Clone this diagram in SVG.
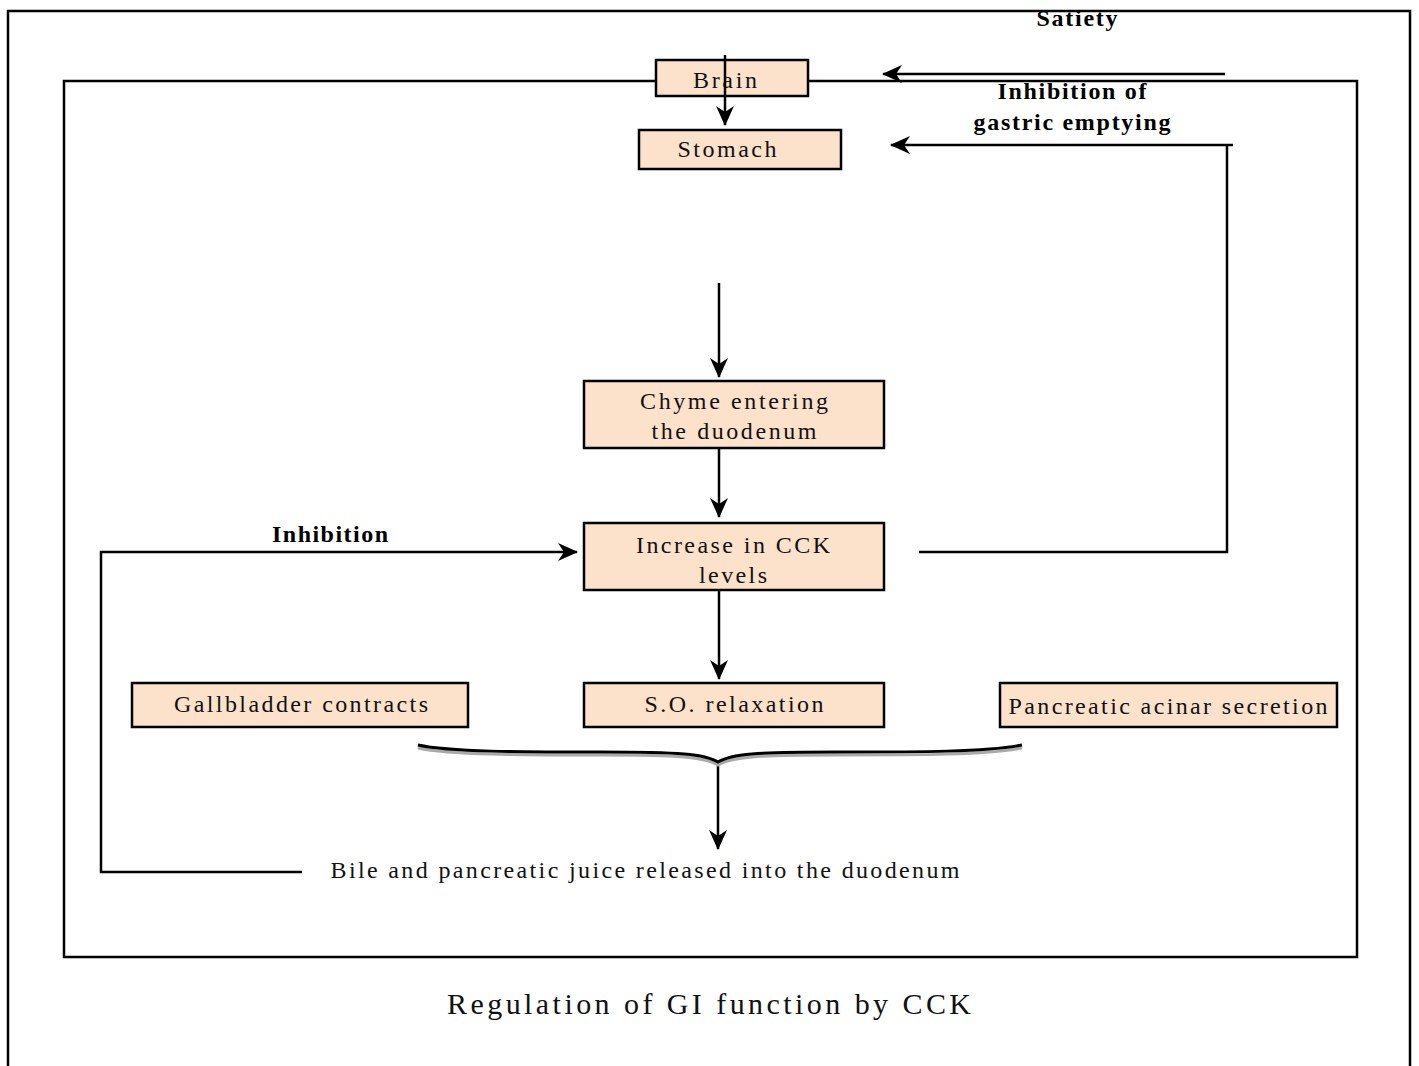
<svg xmlns="http://www.w3.org/2000/svg" width="1419" height="1066" viewBox="0 0 1419 1066">
<style>
.box{fill:#FCE1CB;stroke:#000;stroke-width:2.5}
.t{font-family:'Liberation Serif','DejaVu Serif',serif;font-size:24px;fill:#111;text-anchor:middle}
.b{font-family:'Liberation Serif','DejaVu Serif',serif;font-size:24px;font-weight:bold;fill:#000;text-anchor:middle}
.ln{fill:none;stroke:#000;stroke-width:2.5}
.ar{fill:none;stroke:#000;stroke-width:2.5;marker-end:url(#ah)}
</style>
<defs>
<marker id="ah" viewBox="0 0 20 18" refX="19" refY="9" markerWidth="20" markerHeight="18" markerUnits="userSpaceOnUse" orient="auto">
<path d="M0,0 L20,9 L0,18 L6,9 z" fill="#000"/>
</marker>
</defs>
<rect width="1419" height="1066" fill="#fff"/>
<g id="frame">
<path d="M8,1066 V11 H1410 V1066" class="ln"/>
<rect x="64" y="81" width="1293" height="876" class="ln"/>
</g>
<g id="connectors">
<line x1="1225" y1="74" x2="883" y2="74" class="ar"/>
<line x1="1233" y1="145" x2="891" y2="145" class="ar"/>
<path d="M919,552 H1227 V145" class="ln"/>
<line x1="719" y1="283" x2="719" y2="377" class="ar"/>
<line x1="719" y1="448" x2="719" y2="517" class="ar"/>
<line x1="719" y1="590" x2="719" y2="679" class="ar"/>
<line x1="718" y1="763" x2="718" y2="849" class="ar"/>
<path d="M302,872 H101 V552 H577" class="ar"/>
<path d="M418,748 C450,755 520,755 600,755 C680,755 705,757 718,765 C731,757 756,755 836,755 C916,755 990,755 1022,748" fill="none" stroke="#aaa" stroke-width="3"/>
<path d="M418,745 C450,752 520,752 600,752 C680,752 705,754 718,762 C731,754 756,752 836,752 C916,752 990,752 1022,745" fill="none" stroke="#000" stroke-width="3"/>
</g>
<g id="brain">
<rect x="656" y="60" width="152" height="36" class="box"/>
<text x="725" y="88" class="t" textLength="64" lengthAdjust="spacing">Brain</text>
</g>
<line x1="725" y1="55" x2="725" y2="125" class="ar"/>
<g id="stomach">
<rect x="639" y="130" width="202" height="39" class="box"/>
<text x="727" y="157" class="t" textLength="99" lengthAdjust="spacing">Stomach</text>
</g>
<g id="chyme">
<rect x="584" y="381" width="300" height="67" class="box"/>
<text x="734" y="409" class="t" textLength="188" lengthAdjust="spacing">Chyme entering</text>
<text x="734" y="439" class="t" textLength="165" lengthAdjust="spacing">the duodenum</text>
</g>
<g id="cck">
<rect x="584" y="523" width="300" height="67" class="box"/>
<text x="733" y="553" class="t" textLength="194" lengthAdjust="spacing">Increase in CCK</text>
<text x="733" y="583" class="t" textLength="68" lengthAdjust="spacing">levels</text>
</g>
<g id="gallbladder">
<rect x="132" y="683" width="336" height="44" class="box"/>
<text x="301" y="712" class="t" textLength="254" lengthAdjust="spacing">Gallbladder contracts</text>
</g>
<g id="so">
<rect x="584" y="683" width="300" height="44" class="box"/>
<text x="734" y="712" class="t" textLength="179" lengthAdjust="spacing">S.O. relaxation</text>
</g>
<g id="pancreatic">
<rect x="1000" y="683" width="337" height="44" class="box"/>
<text x="1168" y="714" class="t" textLength="319" lengthAdjust="spacing">Pancreatic acinar secretion</text>
</g>
<g id="bile">
<text x="645" y="878" class="t" textLength="629" lengthAdjust="spacing">Bile and pancreatic juice released into the duodenum</text>
</g>
<g id="labels">
<text x="1077" y="26" class="b" textLength="81" lengthAdjust="spacing">Satiety</text>
<text x="1072" y="99" class="b" textLength="149" lengthAdjust="spacing">Inhibition of</text>
<text x="1072" y="130" class="b" textLength="197" lengthAdjust="spacing">gastric emptying</text>
<text x="330" y="542" class="b" textLength="116" lengthAdjust="spacing">Inhibition</text>
<text x="709" y="1014" class="t" style="font-size:30px" textLength="524" lengthAdjust="spacing">Regulation of GI function by CCK</text>
</g>
</svg>
